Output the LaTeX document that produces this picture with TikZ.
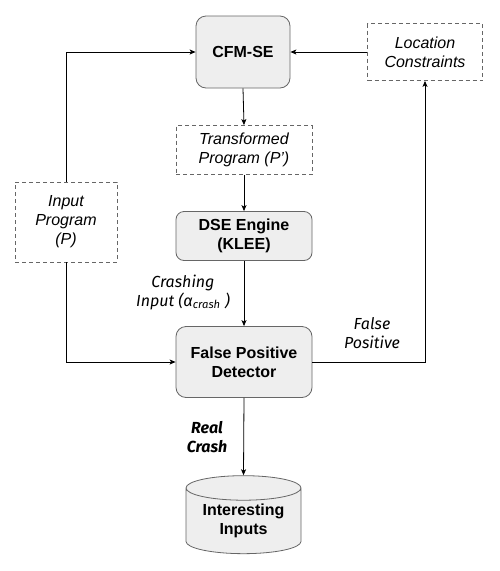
\documentclass[tikz,border=0pt]{standalone}
\usepackage{fontspec}
\setmainfont{Liberation Sans}
\newfontfamily\labfont{Fira Sans}
\usetikzlibrary{shapes.geometric,arrows.meta}
\definecolor{boxfill}{HTML}{EEEEEE}
\definecolor{boxline}{HTML}{666666}
\begin{document}
\begin{tikzpicture}[x=1pt,y=-1pt,
  mybox/.style={rectangle, rounded corners=10pt, draw=boxline, fill=boxfill, line width=0.8pt, align=center, font=\fontsize{16}{19}\selectfont\bfseries, inner sep=0pt},
  mydash/.style={rectangle, draw=boxline, dashed, dash pattern=on 4pt off 3pt, line width=0.8pt, align=center, font=\fontsize{16}{19}\selectfont\itshape, inner sep=0pt},
  mylab/.style={align=center, font=\labfont\fontsize{16}{19}\selectfont\itshape, inner sep=0pt},
  myarr/.style={-{Stealth[length=6pt,width=5pt,inset=1.5pt]}, line width=0.8pt}]
  \useasboundingbox (0,0) rectangle (499,571);

  \node[mybox, minimum width=94pt, minimum height=72pt] (cfm) at (243,52) {CFM-SE};
  \node[mydash, minimum width=115pt, minimum height=57pt] (loc) at (425,52) {Location\\Constraints};
  \node[mydash, minimum width=136pt, minimum height=49pt] (tp) at (244,150) {Transformed\\Program (P')};
  \node[mydash, minimum width=102pt, minimum height=80pt] (ip) at (66,222) {Input\\Program\\(P)};
  \node[mybox, rounded corners=8pt, minimum width=136pt, minimum height=49pt] (dse) at (244,236) {DSE Engine\\(KLEE)};
  \node[mybox, minimum width=136pt, minimum height=71pt] (fpd) at (244,362) {False Positive\\Detector};
  \node[cylinder, shape border rotate=90, aspect=0.3, draw=boxline, fill=boxfill, line width=0.8pt,
        minimum width=115pt, minimum height=78pt, inner sep=0pt, align=center,
        font=\fontsize{16}{19}\selectfont\bfseries] (db) at (243.5,521) {Interesting\\Inputs};

  \node[mylab] (crl) at (183,292) {Crashing\\Input (α\textsubscript{crash} )};
  \node[mylab] (fpl) at (372,333) {False\\Positive};
  \node[mylab, font=\labfont\fontsize{16}{19}\selectfont\bfseries\itshape] (rcl) at (207,437) {Real\\Crash};

    \draw[myarr] (ip.north) |- (cfm.west);
    \draw[myarr] (ip.south) |- (fpd.west);
    \draw[myarr] (loc.west) -- (cfm.east);
    \draw[myarr] (cfm.south) -- (tp.north);
    \draw[myarr] (tp.south) -- (dse.north);
    \draw[myarr] (dse.south) -- (fpd.north);
    \draw[myarr] (fpd.east) -| (loc.south);
    \draw[myarr] (fpd.south) -- (db.top);

\end{tikzpicture}
\end{document}
